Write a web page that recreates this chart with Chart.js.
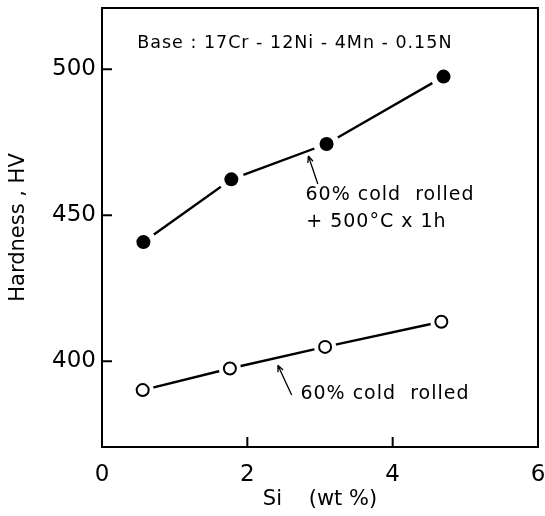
<!DOCTYPE html>
<html>
<head>
<meta charset="utf-8">
<script src="https://cdn.jsdelivr.net/npm/chart.js@4"></script>
<style>
  html, body { margin: 0; padding: 0; background: #fff; }
  #wrap { width: 545px; height: 516px; }
</style>
</head>
<body>
<div id="wrap"><canvas id="hardnessChart"></canvas></div>
<script>
// données
const siContent = [0.57, 1.78, 3.09, 4.70];
const hvAged = [440.8, 462.3, 474.4, 497.5];      // 60% cold rolled + 500°C x 1h
const siContentCold = [0.56, 1.76, 3.07, 4.67];
const hvCold = [390.1, 397.5, 404.9, 413.5];      // 60% cold rolled
const xTicks = [0, 2, 4, 6];
const yTicks = [400, 450, 500];

const FONT = '"DejaVu Sans", sans-serif';

function toPoints(xs, ys) {
    return xs.map((x, i) => ({ x: x, y: ys[i] }));
}

// cadre + graduations intérieures + annotations
const framePlugin = {
    id: 'frame',
    afterDraw(chart) {
        const { ctx, chartArea: a, scales: { x, y } } = chart;
        ctx.save();
        ctx.strokeStyle = '#000';
        ctx.lineWidth = 2;
        ctx.strokeRect(a.left, a.top, a.right - a.left, a.bottom - a.top);

        ctx.beginPath();
        yTicks.forEach(v => {
            const py = y.getPixelForValue(v);
            ctx.moveTo(a.left, py);
            ctx.lineTo(a.left + 10, py);
        });
        [2, 4].forEach(v => {
            const px = x.getPixelForValue(v);
            ctx.moveTo(px, a.bottom);
            ctx.lineTo(px, a.bottom - 10);
        });
        ctx.stroke();

        // textes
        ctx.fillStyle = '#000';
        ctx.textBaseline = 'middle';
        ctx.textAlign = 'left';
        ctx.letterSpacing = '1px';
        ctx.font = '17.5px ' + FONT;
        ctx.fillText('Base : 17Cr - 12Ni - 4Mn - 0.15N', x.getPixelForValue(0.485), y.getPixelForValue(508.7));
        ctx.font = '19px ' + FONT;
        ctx.fillText('60% cold  rolled', x.getPixelForValue(2.80), y.getPixelForValue(457));
        ctx.fillText('+ 500°C x 1h', x.getPixelForValue(2.81), y.getPixelForValue(447.7));
        ctx.fillText('60% cold  rolled', x.getPixelForValue(2.73), y.getPixelForValue(388.9));

        // flèches
        const arrow = (x0, y0, x1, y1) => {
            const px0 = x.getPixelForValue(x0), py0 = y.getPixelForValue(y0);
            const px1 = x.getPixelForValue(x1), py1 = y.getPixelForValue(y1);
            const ang = Math.atan2(py1 - py0, px1 - px0);
            ctx.lineWidth = 1.3;
            ctx.beginPath();
            ctx.moveTo(px0, py0);
            ctx.lineTo(px1, py1);
            ctx.moveTo(px1, py1);
            ctx.lineTo(px1 - 7 * Math.cos(ang - 0.4), py1 - 7 * Math.sin(ang - 0.4));
            ctx.moveTo(px1, py1);
            ctx.lineTo(px1 - 7 * Math.cos(ang + 0.4), py1 - 7 * Math.sin(ang + 0.4));
            ctx.stroke();
        };
        arrow(2.97, 460.7, 2.84, 470.3);
        arrow(2.61, 388.4, 2.42, 398.6);
        ctx.restore();
    }
};

document.addEventListener('DOMContentLoaded', function() {
    const ctx = document.getElementById('hardnessChart').getContext('2d');

    new Chart(ctx, {
        type: 'scatter',
        data: {
            datasets: [
                {
                    // courbe avec halo blanc autour des points (coupure de la ligne)
                    data: toPoints(siContent, hvAged),
                    showLine: true,
                    borderColor: '#000',
                    borderWidth: 2.4,
                    pointRadius: 13,
                    pointBackgroundColor: '#fff',
                    pointBorderWidth: 0,
                    order: 2
                },
                {
                    data: toPoints(siContent, hvAged),
                    pointRadius: 7,
                    pointBackgroundColor: '#000',
                    pointBorderColor: '#000',
                    pointBorderWidth: 0,
                    order: 0
                },
                {
                    data: toPoints(siContentCold, hvCold),
                    showLine: true,
                    borderColor: '#000',
                    borderWidth: 2.4,
                    pointRadius: 11,
                    pointBackgroundColor: '#fff',
                    pointBorderWidth: 0,
                    order: 2
                },
                {
                    data: toPoints(siContentCold, hvCold),
                    pointRadius: 6,
                    pointBackgroundColor: '#fff',
                    pointBorderColor: '#000',
                    pointBorderWidth: 2,
                    order: 0
                }
            ]
        },
        options: {
            responsive: true,
            maintainAspectRatio: false,
            animation: false,
            events: [],
            layout: { autoPadding: false, padding: { top: 8, right: 7, left: 0, bottom: 0 } },
            plugins: {
                legend: { display: false },
                tooltip: { enabled: false }
            },
            scales: {
                x: {
                    type: 'linear',
                    min: 0,
                    max: 6,
                    afterBuildTicks: s => { s.ticks = xTicks.map(v => ({ value: v })); },
                    afterFit: s => { s.height = 69; s.paddingLeft = 0; s.paddingRight = 0; },
                    grid: { display: false, drawTicks: false },
                    border: { display: false },
                    ticks: { color: '#000', padding: 14, font: { family: FONT, size: 23 } },
                    title: {
                        display: true,
                        text: 'Si    (wt %)',
                        color: '#000',
                        padding: { top: 2 },
                        font: { family: FONT, size: 21 }
                    }
                },
                y: {
                    min: 370.6,
                    max: 521,
                    afterBuildTicks: s => { s.ticks = yTicks.map(v => ({ value: v })); },
                    afterFit: s => { s.width = 102; s.paddingTop = 0; s.paddingBottom = 0; },
                    grid: { display: false, drawTicks: false },
                    border: { display: false },
                    ticks: { color: '#000', padding: 6, font: { family: FONT, size: 23 } },
                    title: {
                        display: true,
                        text: 'Hardness , HV',
                        color: '#000',
                        padding: { top: 6 },
                        font: { family: FONT, size: 21 }
                    }
                }
            }
        },
        plugins: [framePlugin]
    });
});
</script>
</body>
</html>
